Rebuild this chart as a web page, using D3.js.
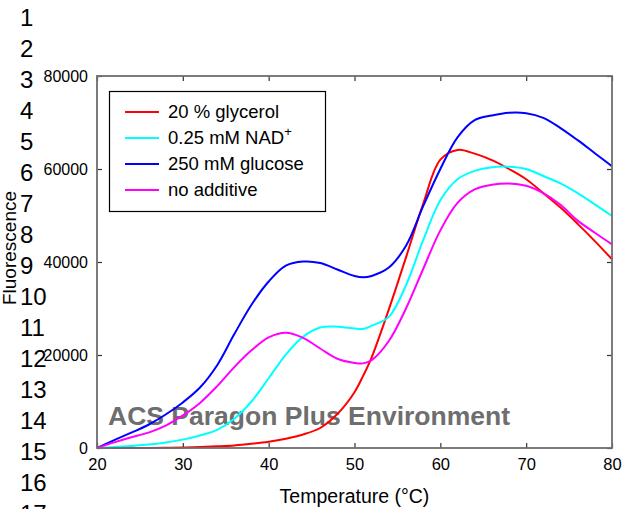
<!DOCTYPE html>
<html lang="en">
<head>
    <meta charset="UTF-8">
    <script src="https://d3js.org/d3.v7.min.js"></script>
    <title>Thermal shift</title>
    <style>
        html, body {
            margin: 0px;
            padding: 0px;
            background-color: #ffffff;
            font-family: "Liberation Sans", Arial, sans-serif;
        }
        svg text { font-family: "Liberation Sans", Arial, sans-serif; }
    </style>
</head>
<body>
    <div id="chart"></div>
    <script>
        // temperatures (°C) and fluorescence
        let temps = [20, 22, 24, 26, 28, 30, 32, 34, 36, 38, 40, 42, 44, 46, 48, 50, 51, 52, 54, 56, 58, 60, 62, 64, 66, 68, 70, 72, 74, 76, 78, 80];
        let glycerol = [0, 0, 0, 0, 50, 100, 200, 350, 550, 900, 1350, 2000, 2900, 4300, 7300, 12000, 15500, 19500, 29800, 41000, 52500, 62000, 64100, 63300, 61900, 60000, 57800, 54800, 51700, 48200, 44500, 40600];
        let nad = [0, 200, 450, 750, 1200, 1800, 2700, 3900, 6300, 10000, 15000, 20100, 23900, 25900, 26100, 25700, 25600, 26300, 28200, 35000, 44700, 53300, 57800, 59600, 60400, 60500, 60000, 58500, 56900, 54800, 52400, 49900];
        let glucose = [0, 1700, 3300, 5000, 7200, 9800, 13000, 17800, 24500, 30800, 35800, 39200, 40100, 39800, 38400, 37000, 36700, 37000, 38800, 43500, 52000, 60000, 66800, 70500, 71500, 72100, 72000, 71000, 68800, 66200, 63400, 60600];
        let noAdditive = [0, 1200, 2300, 3300, 4800, 7000, 9700, 13300, 17400, 21000, 23800, 24800, 23700, 21400, 19200, 18300, 18200, 18900, 23000, 30000, 38500, 46800, 52700, 55600, 56600, 56900, 56400, 54800, 52300, 48900, 46300, 43800];

        let seriesNames = ['20 % glycerol', '0.25 mM NAD', '250 mM glucose', 'no additive'];
        let seriesColors = ['#ff0000', '#00ffff', '#0000ff', '#ff00ff'];
        let seriesValues = [glycerol, nad, glucose, noAdditive];

        let xTicks = [20, 30, 40, 50, 60, 70, 80];
        let yTicks = [0, 20000, 40000, 60000, 80000];
        let lineNumbers = d3.range(1, 18);

        let width = 622;
        let height = 509;
        let margin = { top: 76, right: 10, bottom: 61, left: 97 };

        let svg = d3.select('#chart').append('svg')
            .attr('width', width)
            .attr('height', height);

        // manuscript line numbers down the left edge
        svg.append('g').selectAll('text')
            .data(lineNumbers)
            .join('text')
            .attr('x', 20)
            .attr('y', (d) => 26 + (d - 1) * 31)
            .attr('font-size', 24)
            .attr('fill', '#000')
            .text((d) => d);

        let x = d3.scaleLinear().domain([20, 80]).range([margin.left, width - margin.right]);
        let y = d3.scaleLinear().domain([0, 80000]).range([height - margin.bottom, margin.top]);

        let x0 = x.range()[0], x1 = x.range()[1];
        let y0 = y.range()[0], y1 = y.range()[1];

        // watermark, beneath the curves
        svg.append('text')
            .attr('x', 108)
            .attr('y', 425)
            .attr('font-size', 26.5)
            .attr('font-weight', 'bold')
            .attr('fill', '#6e6e6e')
            .text('ACS Paragon Plus Environment');

        // axes: ticks pointing inward on all four sides
        let bottom = svg.append('g')
            .attr('transform', `translate(0,${y0})`)
            .call(d3.axisBottom(x).tickValues(xTicks).tickSize(-5).tickPadding(10).tickFormat(d3.format('d')));
        bottom.selectAll('text').attr('font-size', 16.5).attr('fill', '#000');

        svg.append('g')
            .attr('transform', `translate(0,${y1})`)
            .call(d3.axisTop(x).tickValues(xTicks).tickSize(-5).tickFormat(''));

        let left = svg.append('g')
            .attr('transform', `translate(${x0},0)`)
            .call(d3.axisLeft(y).tickValues(yTicks).tickSize(-5).tickPadding(9).tickFormat(d3.format('d')));
        left.selectAll('text').attr('font-size', 16).attr('fill', '#000').attr('dy', '0.36em');

        svg.append('g')
            .attr('transform', `translate(${x1},0)`)
            .call(d3.axisRight(y).tickValues(yTicks).tickSize(-5).tickFormat(''));

        svg.selectAll('.domain').remove();
        svg.selectAll('.tick line').attr('stroke', '#333').attr('stroke-width', 1.2);

        // curves
        let line = d3.line()
            .x((d) => x(d[0]))
            .y((d) => y(d[1]))
            .curve(d3.curveCatmullRom.alpha(0.5));

        svg.append('g').selectAll('path')
            .data(seriesValues)
            .join('path')
            .attr('d', (vals) => line(temps.map((t, i) => [t, vals[i]])))
            .attr('fill', 'none')
            .attr('stroke', (d, i) => seriesColors[i])
            .attr('stroke-width', 2);

        // frame
        svg.append('rect')
            .attr('x', x0)
            .attr('y', y1)
            .attr('width', x1 - x0)
            .attr('height', y0 - y1)
            .attr('fill', 'none')
            .attr('stroke', '#6e6e6e')
            .attr('stroke-width', 1.8);

        // legend
        let legend = svg.append('g');
        legend.append('rect')
            .attr('x', 109.5)
            .attr('y', 91.5)
            .attr('width', 216)
            .attr('height', 120)
            .attr('fill', '#fff')
            .attr('stroke', '#000')
            .attr('stroke-width', 1.2);

        let rows = legend.selectAll('g.row')
            .data(seriesNames)
            .join('g')
            .attr('class', 'row')
            .attr('transform', (d, i) => `translate(0,${112 + i * 26})`);

        rows.append('line')
            .attr('x1', 125)
            .attr('x2', 159)
            .attr('stroke', (d, i) => seriesColors[i])
            .attr('stroke-width', 2);

        let labels = rows.append('text')
            .attr('x', 168)
            .attr('y', 6)
            .attr('font-size', 18.5)
            .attr('fill', '#000')
            .text((d) => d);

        labels.filter((d, i) => i === 1)
            .append('tspan')
            .attr('dy', -8)
            .attr('font-size', 13)
            .text('+');

        // axis titles
        svg.append('text')
            .attr('x', (x0 + x1) / 2)
            .attr('y', 503)
            .attr('text-anchor', 'middle')
            .attr('font-size', 19.5)
            .attr('fill', '#000')
            .text('Temperature (°C)');

        svg.append('text')
            .attr('transform', 'translate(16,248) rotate(-90)')
            .attr('text-anchor', 'middle')
            .attr('font-size', 19)
            .attr('fill', '#000')
            .text('Fluorescence');
    </script>
</body>
</html>
